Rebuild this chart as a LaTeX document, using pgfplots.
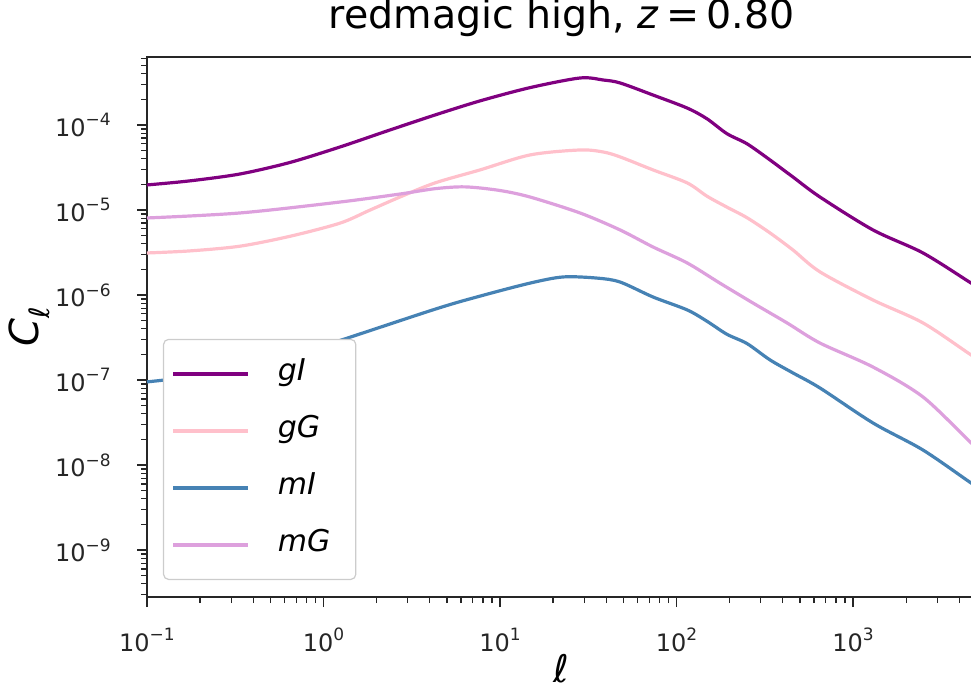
\documentclass[border=0pt]{standalone}
\usepackage{fontspec}
\setmainfont{DejaVu Sans}
\usepackage{pgfplots}
\pgfplotsset{compat=1.18}
\definecolor{cgI}{RGB}{128,0,128}
\definecolor{cgG}{RGB}{255,192,203}
\definecolor{cmI}{RGB}{70,130,180}
\definecolor{cmG}{RGB}{221,160,221}
\definecolor{edge}{RGB}{204,204,204}
\newcommand\supr[1]{\raisebox{0.42em}{\fontsize{8.5bp}{8.5bp}\selectfont #1}}
\begin{document}
\begin{tikzpicture}
\begin{axis}[
  at={(0,0)}, anchor=south west,
  scale only axis, width=414.7bp, height=270bp,
  xmode=log, ymode=log,
  xmin=0.1, xmax=5000, ymin=2.8e-10, ymax=6.3e-4,
  axis line style={line width=0.9bp, black!85},
  tick pos=left, tick align=outside,
  major tick length=5bp, minor tick length=3bp,
  every major tick/.append style={line width=0.9bp, black!85},
  every minor tick/.append style={line width=0.65bp, black!85},
  xtick={0.1,1,10,100,1000},
  xticklabels={10\supr{−1},10\supr{0},10\supr{1},10\supr{2},10\supr{3}},
  ytick={1e-9,1e-8,1e-7,1e-6,1e-5,1e-4},
  yticklabels={10\supr{−9},10\supr{−8},10\supr{−7},10\supr{−6},10\supr{−5},10\supr{−4}},
  minor xtick={0.2,0.3,0.4,0.5,0.6,0.7,0.8,0.9,2,3,4,5,6,7,8,9,20,30,40,50,60,70,80,90,200,300,400,500,600,700,800,900,2000,3000,4000,5000},
  minor ytick={3e-10,4e-10,5e-10,6e-10,7e-10,8e-10,9e-10,2e-9,3e-9,4e-9,5e-9,6e-9,7e-9,8e-9,9e-9,2e-8,3e-8,4e-8,5e-8,6e-8,7e-8,8e-8,9e-8,2e-7,3e-7,4e-7,5e-7,6e-7,7e-7,8e-7,9e-7,2e-6,3e-6,4e-6,5e-6,6e-6,7e-6,8e-6,9e-6,2e-5,3e-5,4e-5,5e-5,6e-5,7e-5,8e-5,9e-5,2e-4,3e-4,4e-4,5e-4,6e-4},
  ticklabel style={font=\fontsize{12bp}{14bp}\selectfont, inner sep=0pt, text=black!85},
  xticklabel style={anchor=base, yshift=-22bp},
  yticklabel style={anchor=east, xshift=-13bp},
  title={redmagic high, \textit{z}\hspace{0.18em}=\hspace{0.18em}0.80},
  title style={at={(0.5,1.0315)}, anchor=base, font=\fontsize{19.75bp}{22bp}\selectfont},
  xlabel={\textit{ℓ}},
  xlabel style={at={(0.5,-0.158)}, anchor=base, font=\fontsize{19bp}{22bp}\selectfont},
  ylabel={\textit{C}\raisebox{-0.28em}{\fontsize{14bp}{14bp}\selectfont\textit{ℓ}}},
  ylabel style={at={(-0.131,0.5)}, anchor=base, font=\fontsize{20bp}{22bp}\selectfont},
  legend cell align=left,
  legend image code/.code={\draw[#1] (0bp,0bp) -- (37.5bp,0bp);},
  legend style={at={(0,0)}, anchor=south west, xshift=8bp, yshift=8.5bp,
    draw=edge, line width=0.6bp, rounded corners=2.5bp, fill=white,
    inner xsep=4bp, inner ysep=9.75bp, row sep=13.5bp, column sep=14bp,
    font=\fontsize{15bp}{17bp}\selectfont,
    nodes={inner sep=0pt, text height=11bp, text depth=4bp}},
]
\addplot[cgI, line width=1.6bp, smooth, tension=0.5] coordinates {
(0.1,1.97e-5) (0.175,2.2e-5) (0.336,2.65e-5) (0.645,3.62e-5) (1.24,5.51e-5) (2.38,8.73e-5) (4.28,1.31e-4) (7.71,1.92e-4) (14.8,2.75e-4) (28.4,3.57e-4) (38.4,3.38e-4) (47.9,3.12e-4) (73.6,2.25e-4) (115,1.58e-4) (149,1.18e-4) (193,7.9e-5) (251,6.0e-5) (339,3.87e-5) (457,2.44e-5) (650,1.42e-5) (1298,5.82e-6) (2492,3.12e-6) (4667,1.38e-6) (5000,1.28e-6)
};
\addlegendentry{\makebox[35bp][l]{\textit{gI}}}
\addplot[cgG, line width=1.6bp, smooth, tension=0.5] coordinates {
(0.1,3.12e-6) (0.175,3.3e-6) (0.336,3.75e-6) (0.645,4.9e-6) (1.24,7.0e-6) (1.82,9.9e-6) (2.71,1.42e-5) (4.28,2.08e-5) (7.71,2.96e-5) (14.8,4.44e-5) (28.4,5.08e-5) (38.4,4.81e-5) (47.9,4.21e-5) (73.6,2.96e-5) (115,2.08e-5) (149,1.45e-5) (193,1.08e-5) (251,8.1e-6) (339,5.36e-6) (457,3.38e-6) (650,1.87e-6) (1298,8.73e-7) (2492,4.69e-7) (4667,1.97e-7) (5000,1.86e-7)
};
\addlegendentry{\makebox[35bp][l]{\textit{gG}}}
\addplot[cmI, line width=1.6bp, smooth, tension=0.5] coordinates {
(0.1,9.5e-8) (0.336,1.31e-7) (0.955,2.45e-7) (4.28,6.8e-7) (7.71,9.7e-7) (14.8,1.38e-6) (22.8,1.63e-6) (35.5,1.58e-6) (47.9,1.42e-6) (73.6,9.47e-7) (115,6.67e-7) (149,4.9e-7) (193,3.45e-7) (251,2.68e-7) (339,1.72e-7) (457,1.21e-7) (650,8.05e-8) (1298,3.12e-8) (2492,1.50e-8) (4667,6.14e-9) (5000,5.8e-9)
};
\addlegendentry{\makebox[35bp][l]{\textit{mI}}}
\addplot[cmG, line width=1.6bp, smooth, tension=0.5] coordinates {
(0.1,8.05e-6) (0.336,9.22e-6) (1.24,1.24e-5) (2.71,1.54e-5) (4.28,1.78e-5) (6.33,1.87e-5) (9.9,1.7e-5) (14.8,1.42e-5) (28.4,9.22e-6) (47.9,5.82e-6) (73.6,3.67e-6) (115,2.38e-6) (176,1.38e-6) (271,8.05e-7) (423,4.69e-7) (650,2.72e-7) (1298,1.42e-7) (2492,6.31e-8) (4667,1.82e-8) (5000,1.7e-8)
};
\addlegendentry{\makebox[35bp][l]{\textit{mG}}}
\end{axis}
\pgfresetboundingbox
\useasboundingbox (-73.5bp,-47.5bp) rectangle (412bp,298.5bp);
\end{tikzpicture}
\end{document}
